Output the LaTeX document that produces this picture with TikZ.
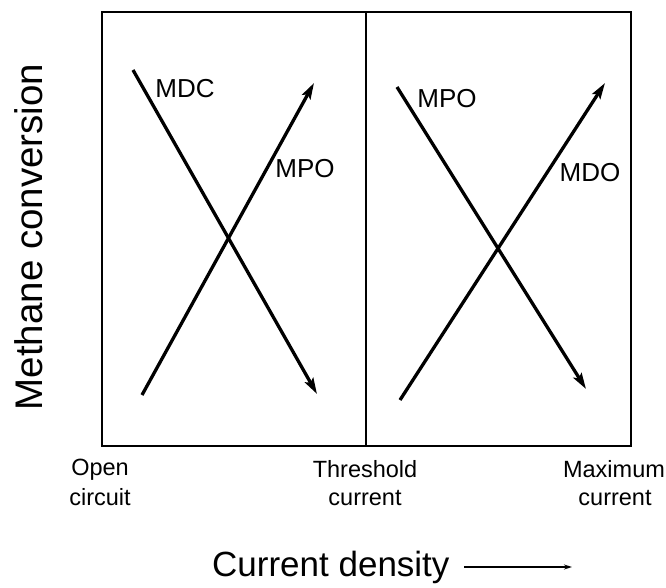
\documentclass[tikz,border=0pt]{standalone}
\usepackage{fontspec}
\setmainfont{Liberation Sans}
\usetikzlibrary{arrows.meta}
\begin{document}
\begin{tikzpicture}[x=1pt,y=-1pt,
  frame/.style={line width=2.2pt,black},
  trend/.style={line width=3.3pt,black,-{Stealth[length=16pt,width=9.5pt,inset=3pt]}},
  curvelabel/.style={font=\fontsize{26}{30}\selectfont,anchor=base,inner sep=0pt},
  ticklabel/.style={font=\fontsize{23.5}{28}\selectfont,anchor=base,inner sep=0pt},
  axislabel/.style={font=\fontsize{35}{40}\selectfont,inner sep=0pt}]
\useasboundingbox (0,0) rectangle (666,588);
% frame
\coordinate (tl) at (102,12);
\coordinate (br) at (631,446);
\coordinate (dtop) at (366,12);
\coordinate (dbot) at (366,446);
\draw[frame] (tl) rectangle (br);
\draw[frame] (dtop) -- (dbot);
% left panel
\coordinate (mdcS) at (133,70);
\coordinate (mdcE) at (317,394);
\coordinate (mpoS) at (142,395);
\coordinate (mpoE) at (314,83);
\draw[trend] (mdcS) -- (mdcE);
\draw[trend] (mpoS) -- (mpoE);
% right panel
\coordinate (mpo2S) at (397,87);
\coordinate (mpo2E) at (586,389);
\coordinate (mdoS) at (400,400);
\coordinate (mdoE) at (605,83);
\draw[trend] (mpo2S) -- (mpo2E);
\draw[trend] (mdoS) -- (mdoE);
% curve labels
\node[curvelabel] (lMDC) at (185,98) {MDC};
\node[curvelabel] (lMPO) at (305,178) {MPO};
\node[curvelabel] (lMPO2) at (447,108) {MPO};
\node[curvelabel] (lMDO) at (590,182) {MDO};
% tick labels
\node[ticklabel] (open1) at (100,475) {Open};
\node[ticklabel] (open2) at (100,505) {circuit};
\node[ticklabel] (thr1) at (365,477) {Threshold};
\node[ticklabel] (thr2) at (365,505) {current};
\node[ticklabel] (max1) at (614,477) {Maximum};
\node[ticklabel] (max2) at (615,505) {current};
% axis labels
\node[axislabel,anchor=base west] (xlab) at (212,576) {Current density};
\coordinate (xarrS) at (464,567);
\coordinate (xarrE) at (572,567);
\draw[line width=1.4pt,-{Stealth[length=8pt,width=5pt]}] (xarrS) -- (xarrE);
\node[font=\fontsize{38.5}{42}\selectfont,inner sep=0pt,rotate=90,anchor=base] (ylab) at (42,237) {Methane conversion};
\end{tikzpicture}
\end{document}
